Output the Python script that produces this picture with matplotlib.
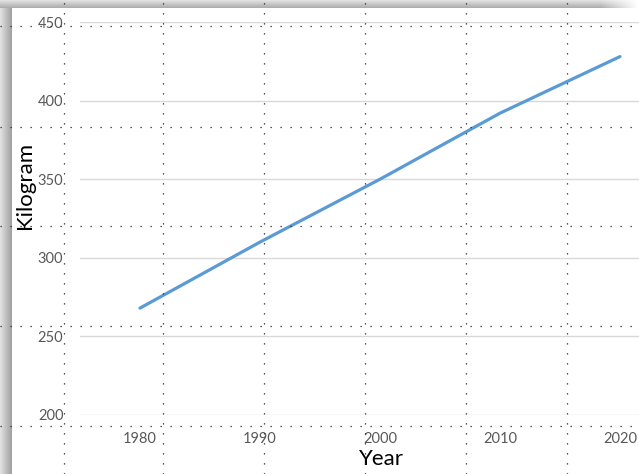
import numpy as np
import matplotlib
matplotlib.use("Agg")
import matplotlib.pyplot as plt

years = [1980, 1990, 2000, 2010, 2020]
kilogram = [268, 310, 350, 392, 428]
y_ticks = [200, 250, 300, 350, 400, 450]

W, H = 639, 474
fig = plt.figure(figsize=(W / 100, H / 100), dpi=100)
plt.rcParams['font.family'] = ['Lato', 'DejaVu Sans']

# background with shadow frame
bg = fig.add_axes([0, 0, 1, 1])
img = np.ones((H, W))
for i in range(12):
    v = 0.88 - 0.25 * (i / 11)
    img[8:, i] = np.minimum(img[8:, i], v)
for j in range(8):
    v = 0.88 - 0.2 * (j / 7)
    row = np.full(W, v)
    row[600:] = np.linspace(v, 1.0, W - 600)
    img[j, :] = np.minimum(img[j, :], row)
bg.imshow(img, cmap='gray', vmin=0, vmax=1, extent=[0, W, H, 0], aspect='auto', interpolation='bilinear')
bg.set_xlim(0, W)
bg.set_ylim(H, 0)
bg.axis('off')

# main chart
left, right, top, bottom = 80, 639, 22, 415
ax = fig.add_axes([left / W, 1 - bottom / H, (right - left) / W, (bottom - top) / H])
ax.patch.set_alpha(0)
ax.plot(years, kilogram, color='#5b9bd5', lw=2.3, solid_capstyle='round')
ax.set_xlim(1975, 1975 + (right - left) / 120 * 10)
ax.set_ylim(200, 450)
ax.set_yticks(y_ticks)
ax.set_xticks(years)
ax.grid(axis='y', color='#d9d9d9', lw=1)
ax.set_axisbelow(True)
for s in ax.spines.values():
    s.set_visible(False)
ax.tick_params(length=0, labelsize=10.5, labelcolor='#595959')
ax.tick_params(axis='y', pad=12)
ax.tick_params(axis='x', pad=12)
ax.set_xlabel('Year', fontsize=16, color='black')
ax.set_ylabel('Kilogram', fontsize=16, color='black')
ax.xaxis.set_label_coords((381 - left) / (right - left), (bottom - 459) / (bottom - top))
ax.xaxis.label.set_va('center')
ax.yaxis.set_label_coords((25 - left) / (right - left), (bottom - 185) / (bottom - top))
ax.yaxis.label.set_va('center')

# dotted overlay grid
ov = fig.add_axes([0, 0, 1, 1])
ov.patch.set_alpha(0)
ov.set_xlim(0, W)
ov.set_ylim(H, 0)
ov.set_xticks([64, 163, 264, 365, 466, 567])
ov.set_yticks([26, 127, 226, 326, 426])
ov.grid(True, color='#222222', lw=0.9, linestyle=(0, (1, 7)))
ov.tick_params(length=0, labelbottom=False, labelleft=False)
for s in ov.spines.values():
    s.set_visible(False)

fig.savefig('out.png', dpi=100)
